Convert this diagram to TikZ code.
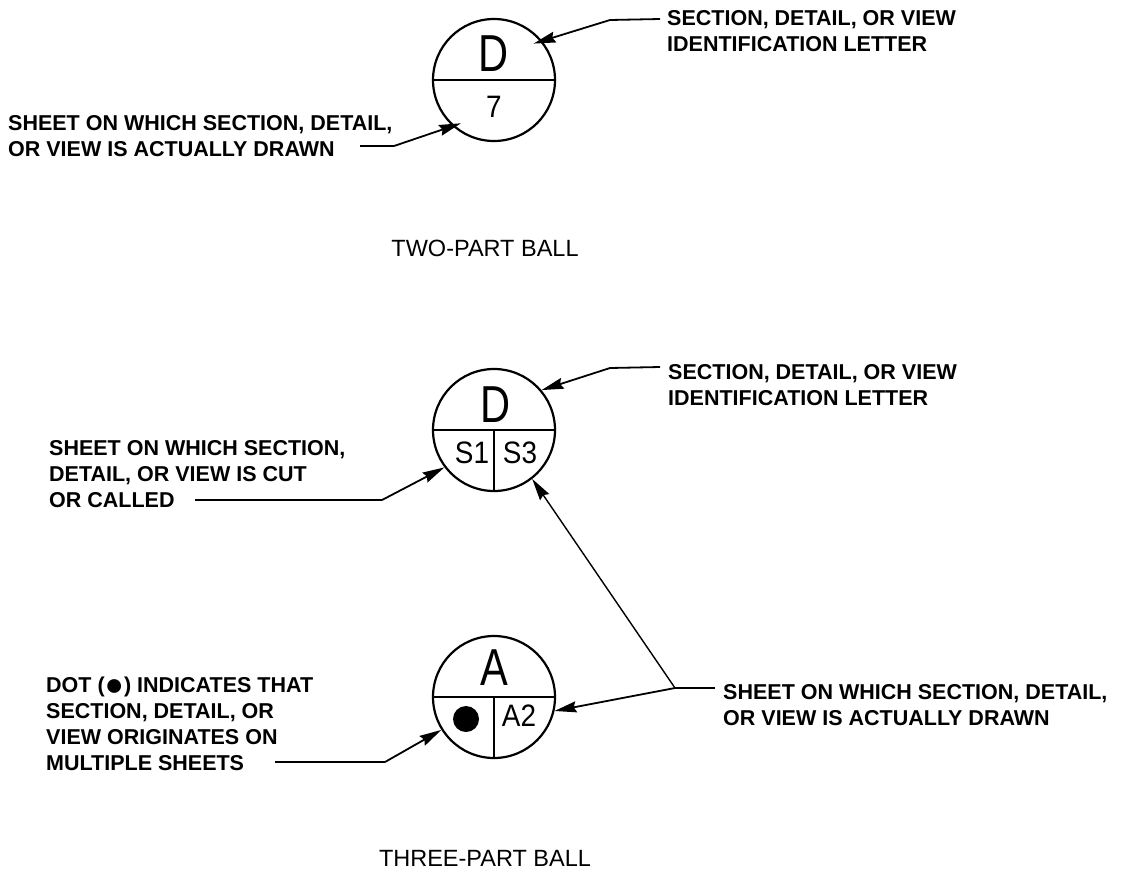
\documentclass[tikz,border=0pt]{standalone}
\usepackage{fontspec}
\setmainfont{Liberation Sans}
\usetikzlibrary{arrows.meta,calc}
\newcommand{\bigdot}{{\fontsize{32}{26}\selectfont\raisebox{-3pt}{●}}}
\begin{document}
\begin{tikzpicture}[x=1pt,y=-1pt,
  ball/.style={circle,draw,line width=2.2pt,minimum size=122pt,inner sep=0pt},
  bigletter/.style={font=\fontsize{52}{52}\selectfont,inner sep=0pt,xscale=0.8},
  smallletter/.style={font=\fontsize{31}{31}\selectfont,inner sep=0pt,xscale=0.9},
  lbl/.style={font=\bfseries\fontsize{21.5}{26}\selectfont,align=left,inner sep=0pt,anchor=north west},
  caption/.style={font=\fontsize{23.5}{26}\selectfont,inner sep=0pt},
  diam/.style={line width=2.6pt},
  divider/.style={line width=1.3pt},
  lead/.style={line width=1.8pt},
  arr/.style={line width=1.8pt,-{Stealth[length=22pt,width=11pt,inset=2.5pt]}},
  longarr/.style={line width=1.4pt,-{Stealth[length=22pt,width=11pt,inset=2.5pt]}}
]
\fill[white] (0,0) rectangle (1121,879);
\useasboundingbox (0,0) rectangle (1121,879);

% ---------- two-part ball ----------
\node[ball] (b1) at (494,80) {};
\draw[diam] (b1.west) -- (b1.east);
\node[bigletter] (b1top) at (494,54) {D};
\node[smallletter] (b1bot) at (494,107) {7};

\node[lbl] (t1r) at (667,10) {SECTION, DETAIL, OR VIEW\\IDENTIFICATION LETTER};
\coordinate (s1r) at (660,19);
\coordinate (k1r) at (610,20);
\draw[lead] (s1r) -- (k1r);
\draw[arr,shorten >=-9pt] (k1r) -- (b1.39);

\node[lbl] (t1l) at (8,115) {SHEET ON WHICH SECTION, DETAIL,\\OR VIEW IS ACTUALLY DRAWN};
\coordinate (s1l) at (360,146);
\coordinate (k1l) at (394,146);
\draw[lead] (s1l) -- (k1l);
\draw[arr,shorten >=-9pt] (k1l) -- (b1.228);

\node[caption] (c1) at (485,248) {TWO-PART BALL};

% ---------- three-part balls ----------
\node[ball] (b2) at (494,430) {};
\draw[diam] (b2.west) -- (b2.east);
\draw[divider] (b2.center) -- (b2.south);
\node[bigletter] (b2top) at (496,405) {D};
\node[smallletter] (b2l) at (472,453) {S1};
\node[smallletter] (b2r) at (520,453) {S3};

\node[lbl] (t2r) at (668,364) {SECTION, DETAIL, OR VIEW\\IDENTIFICATION LETTER};
\coordinate (s2r) at (660,367);
\coordinate (k2r) at (610,368);
\draw[lead] (s2r) -- (k2r);
\draw[arr] (k2r) -- (b2.40);

\node[lbl] (t2l) at (49,440) {SHEET ON WHICH SECTION,\\DETAIL, OR VIEW IS CUT\\OR CALLED};
\coordinate (s2l) at (195,500);
\coordinate (k2l) at (382,500);
\draw[lead] (s2l) -- (k2l);
\draw[arr] (k2l) -- (b2.217);

\node[ball] (b3) at (494,697) {};
\draw[diam] (b3.west) -- (b3.east);
\draw[divider] (b3.center) -- (b3.south);
\node[bigletter] (b3top) at (494,668) {A};
\node[circle,fill,minimum size=26pt,inner sep=0pt] (dot) at (466,719) {};
\node[smallletter] (b3r) at (519,716) {A2};

\node[lbl] (t3l) at (46,677) {DOT (\bigdot) INDICATES THAT\\SECTION, DETAIL, OR\\VIEW ORIGINATES ON\\MULTIPLE SHEETS};
\coordinate (s3l) at (275,762);
\coordinate (k3l) at (385,762);
\draw[lead] (s3l) -- (k3l);
\draw[arr] (k3l) -- (b3.212);

\node[lbl] (t3r) at (723,684) {SHEET ON WHICH SECTION, DETAIL,\\OR VIEW IS ACTUALLY DRAWN};
\coordinate (s3r) at (715,688);
\coordinate (j3) at (675,688);
\draw[lead] (s3r) -- (j3);
\draw[arr] (j3) -- (b3.-13);
\draw[longarr] (j3) -- (b2.-52);

\node[caption] (c2) at (485,858) {THREE-PART BALL};
\end{tikzpicture}
\end{document}
